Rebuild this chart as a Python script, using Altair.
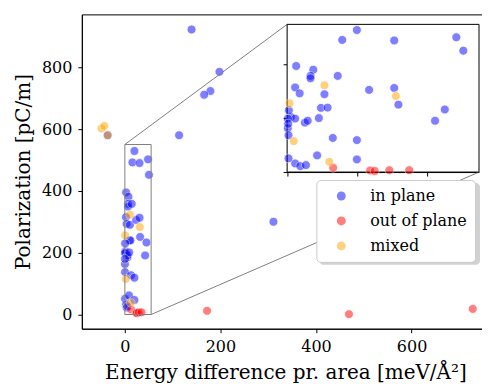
import altair as alt
import pandas as pd

# ---- data ----
categories = ["in plane", "out of plane", "mixed"]
colors = ["#0000ff", "#ff0000", "#ffa500"]

in_plane_x = [20, 15.8, 30.7, 48.5, 50.5, 2.6, 7.5, 6.7, 6.7, 14.5, 2.3, 3.6, 10.7, 23.5,
              30.7, 31.9, 9.7, 11.6, 1.1, 2.3, 0.2, 5.1, 5.9, 9.1, 45.2, 42.4, 0.2, 0.4,
              13.1, 20, 0.4, 2.3, 3.8, 5.4, 8.6, 20, 0.3, 0.5,
              139.6, 198, 179, 166, 113.5, 311, -36]
in_plane_y = [529, 492, 490, 502, 452, 395, 381, 358, 349, 358, 315, 293, 290, 306,
              313, 251, 239, 240, 205, 199, 199, 184, 191, 201, 233, 191, 163, 137,
              127, 119, 51, 32, 22, 26, 62, 47, 180, 230,
              922, 785, 723, 711, 580, 300, 580]

out_x = [13.2, 23.8, 25.1, 29.3, 35, 172, 469, 728]
out_y = [16, 6, 4, 7, 7, 12, 1, 18]

mixed_x = [10.7, 0.7, 31.2, 1.9, 12.1, -49, -43, -36]
mixed_y = [323, 256, 283, 115, 38, 602, 610, 580]

x_ticks = [0, 200, 400, 600]
y_ticks = [0, 200, 400, 600, 800]
inset_x_ticks = [0, 20, 40]
inset_y_ticks = [0, 200, 400]

main_x_domain = [-90, 762]
main_y_domain = [-46, 971]
zoom_x = [0, 55]
zoom_y = [0, 550]

rows = []
for cat, xs, ys in zip(categories, [in_plane_x, out_x, mixed_x], [in_plane_y, out_y, mixed_y]):
    for xv, yv in zip(xs, ys):
        rows.append({"energy": xv, "pol": yv, "kind": cat})
df = pd.DataFrame(rows)

zoom_df = pd.DataFrame({"energy": [zoom_x[0]], "energy2": [zoom_x[1]],
                        "pol": [zoom_y[0]], "pol2": [zoom_y[1]]})
corner_tl = pd.DataFrame({"energy": [zoom_x[0]], "pol": [zoom_y[1]]})
corner_br = pd.DataFrame({"energy": [zoom_x[1]], "pol": [zoom_y[0]]})

# ---- layout (pixels inside the plot area) ----
W, H = 408, 315
INSET_L, INSET_R, INSET_T, INSET_B = 205.7, 398, 10, 158

FONT = "DejaVu Serif"
XTITLE = "Energy difference pr. area [meV/Å²]"
YTITLE = "Polarization [pC/m]"

main_xs = alt.Scale(domain=main_x_domain, nice=False, zero=False)
main_ys = alt.Scale(domain=main_y_domain, nice=False, zero=False)
main_xa = alt.Axis(orient="bottom", values=x_ticks, title=XTITLE, grid=False, tickSize=4,
                   labelPadding=6, titlePadding=8)
main_ya = alt.Axis(orient="left", values=y_ticks, title=YTITLE, grid=False, tickSize=4,
                   labelPadding=6, titlePadding=8)

color = alt.Color("kind:N", scale=alt.Scale(domain=categories, range=colors), sort=categories,
                  legend=alt.Legend(title=None, orient="none", legendX=235, legendY=166,
                                    fillColor="white", strokeColor="#cccccc", cornerRadius=4,
                                    padding=8, symbolSize=80, symbolOpacity=0.5,
                                    symbolStrokeWidth=0, symbolType="circle",
                                    labelFont=FONT, labelFontSize=16, labelColor="black",
                                    rowPadding=9, labelOffset=21, symbolOffset=9))

pts_main = alt.Chart(df).mark_circle(size=80, opacity=0.5, stroke="white", strokeWidth=0.8).encode(
    x=alt.X("energy:Q", scale=main_xs, axis=main_xa),
    y=alt.Y("pol:Q", scale=main_ys, axis=main_ya),
    color=color,
)

zoom_box = alt.Chart(zoom_df).mark_rect(filled=False, stroke="#808080", strokeWidth=1).encode(
    x=alt.X("energy:Q", scale=main_xs, axis=main_xa),
    x2="energy2",
    y=alt.Y("pol:Q", scale=main_ys, axis=main_ya),
    y2="pol2",
)

conn1 = alt.Chart(corner_tl).mark_rule(stroke="#808080", strokeWidth=1).encode(
    x=alt.X("energy:Q", scale=main_xs, axis=main_xa),
    y=alt.Y("pol:Q", scale=main_ys, axis=main_ya),
    x2=alt.value(INSET_L), y2=alt.value(INSET_T),
)
conn2 = alt.Chart(corner_br).mark_rule(stroke="#808080", strokeWidth=1).encode(
    x=alt.X("energy:Q", scale=main_xs, axis=main_xa),
    y=alt.Y("pol:Q", scale=main_ys, axis=main_ya),
    x2=alt.value(INSET_R), y2=alt.value(INSET_B),
)

shadow = alt.Chart(alt.Data(values=[{}])).mark_rect(color="#999999", opacity=0.45, cornerRadius=4).encode(
    x=alt.value(238), x2=alt.value(399), y=alt.value(169), y2=alt.value(251),
)

main = alt.layer(pts_main, zoom_box, conn1, conn2, shadow)

# ---- inset ----
in_xs = alt.Scale(domain=zoom_x, range=[INSET_L, INSET_R], nice=False, zero=False)
in_ys = alt.Scale(domain=zoom_y, range=[INSET_B, INSET_T], nice=False, zero=False)
in_xa = alt.Axis(orient="bottom", offset=-(H - INSET_B), values=inset_x_ticks, labels=False,
                 title=None, grid=False, tickSize=4)
in_ya = alt.Axis(orient="left", offset=-INSET_L, values=inset_y_ticks, labels=False,
                 title=None, grid=False, tickSize=4)

inset_bg = alt.Chart(zoom_df).mark_rect(fill="white", stroke="black", strokeWidth=1).encode(
    x=alt.X("energy:Q", scale=in_xs, axis=in_xa),
    x2="energy2",
    y=alt.Y("pol:Q", scale=in_ys, axis=in_ya),
    y2="pol2",
)

inset_pts = alt.Chart(df).transform_filter(
    f"datum.energy >= {zoom_x[0] - 1} && datum.energy <= {zoom_x[1]} && "
    f"datum.pol >= {zoom_y[0] - 5} && datum.pol <= {zoom_y[1]}"
).mark_circle(size=80, opacity=0.5, stroke="white", strokeWidth=0.8).encode(
    x=alt.X("energy:Q", scale=in_xs, axis=in_xa),
    y=alt.Y("pol:Q", scale=in_ys, axis=in_ya),
    color=color,
)

inset = alt.layer(inset_bg, inset_pts)

chart = alt.layer(main, inset).resolve_scale(x="independent", y="independent").properties(
    width=W, height=H,
    padding={"left": 5, "top": 6, "right": -7, "bottom": 0},
    background="white",
).configure_view(stroke="black", strokeWidth=1).configure_axis(
    labelFont=FONT, titleFont=FONT, labelFontSize=16, titleFontSize=20,
    titleFontWeight="normal", labelColor="black", titleColor="black",
    domainColor="black", tickColor="black", domainWidth=1, tickWidth=1,
)

chart.save("out.html", embed_options={"renderer": "svg", "actions": False})
